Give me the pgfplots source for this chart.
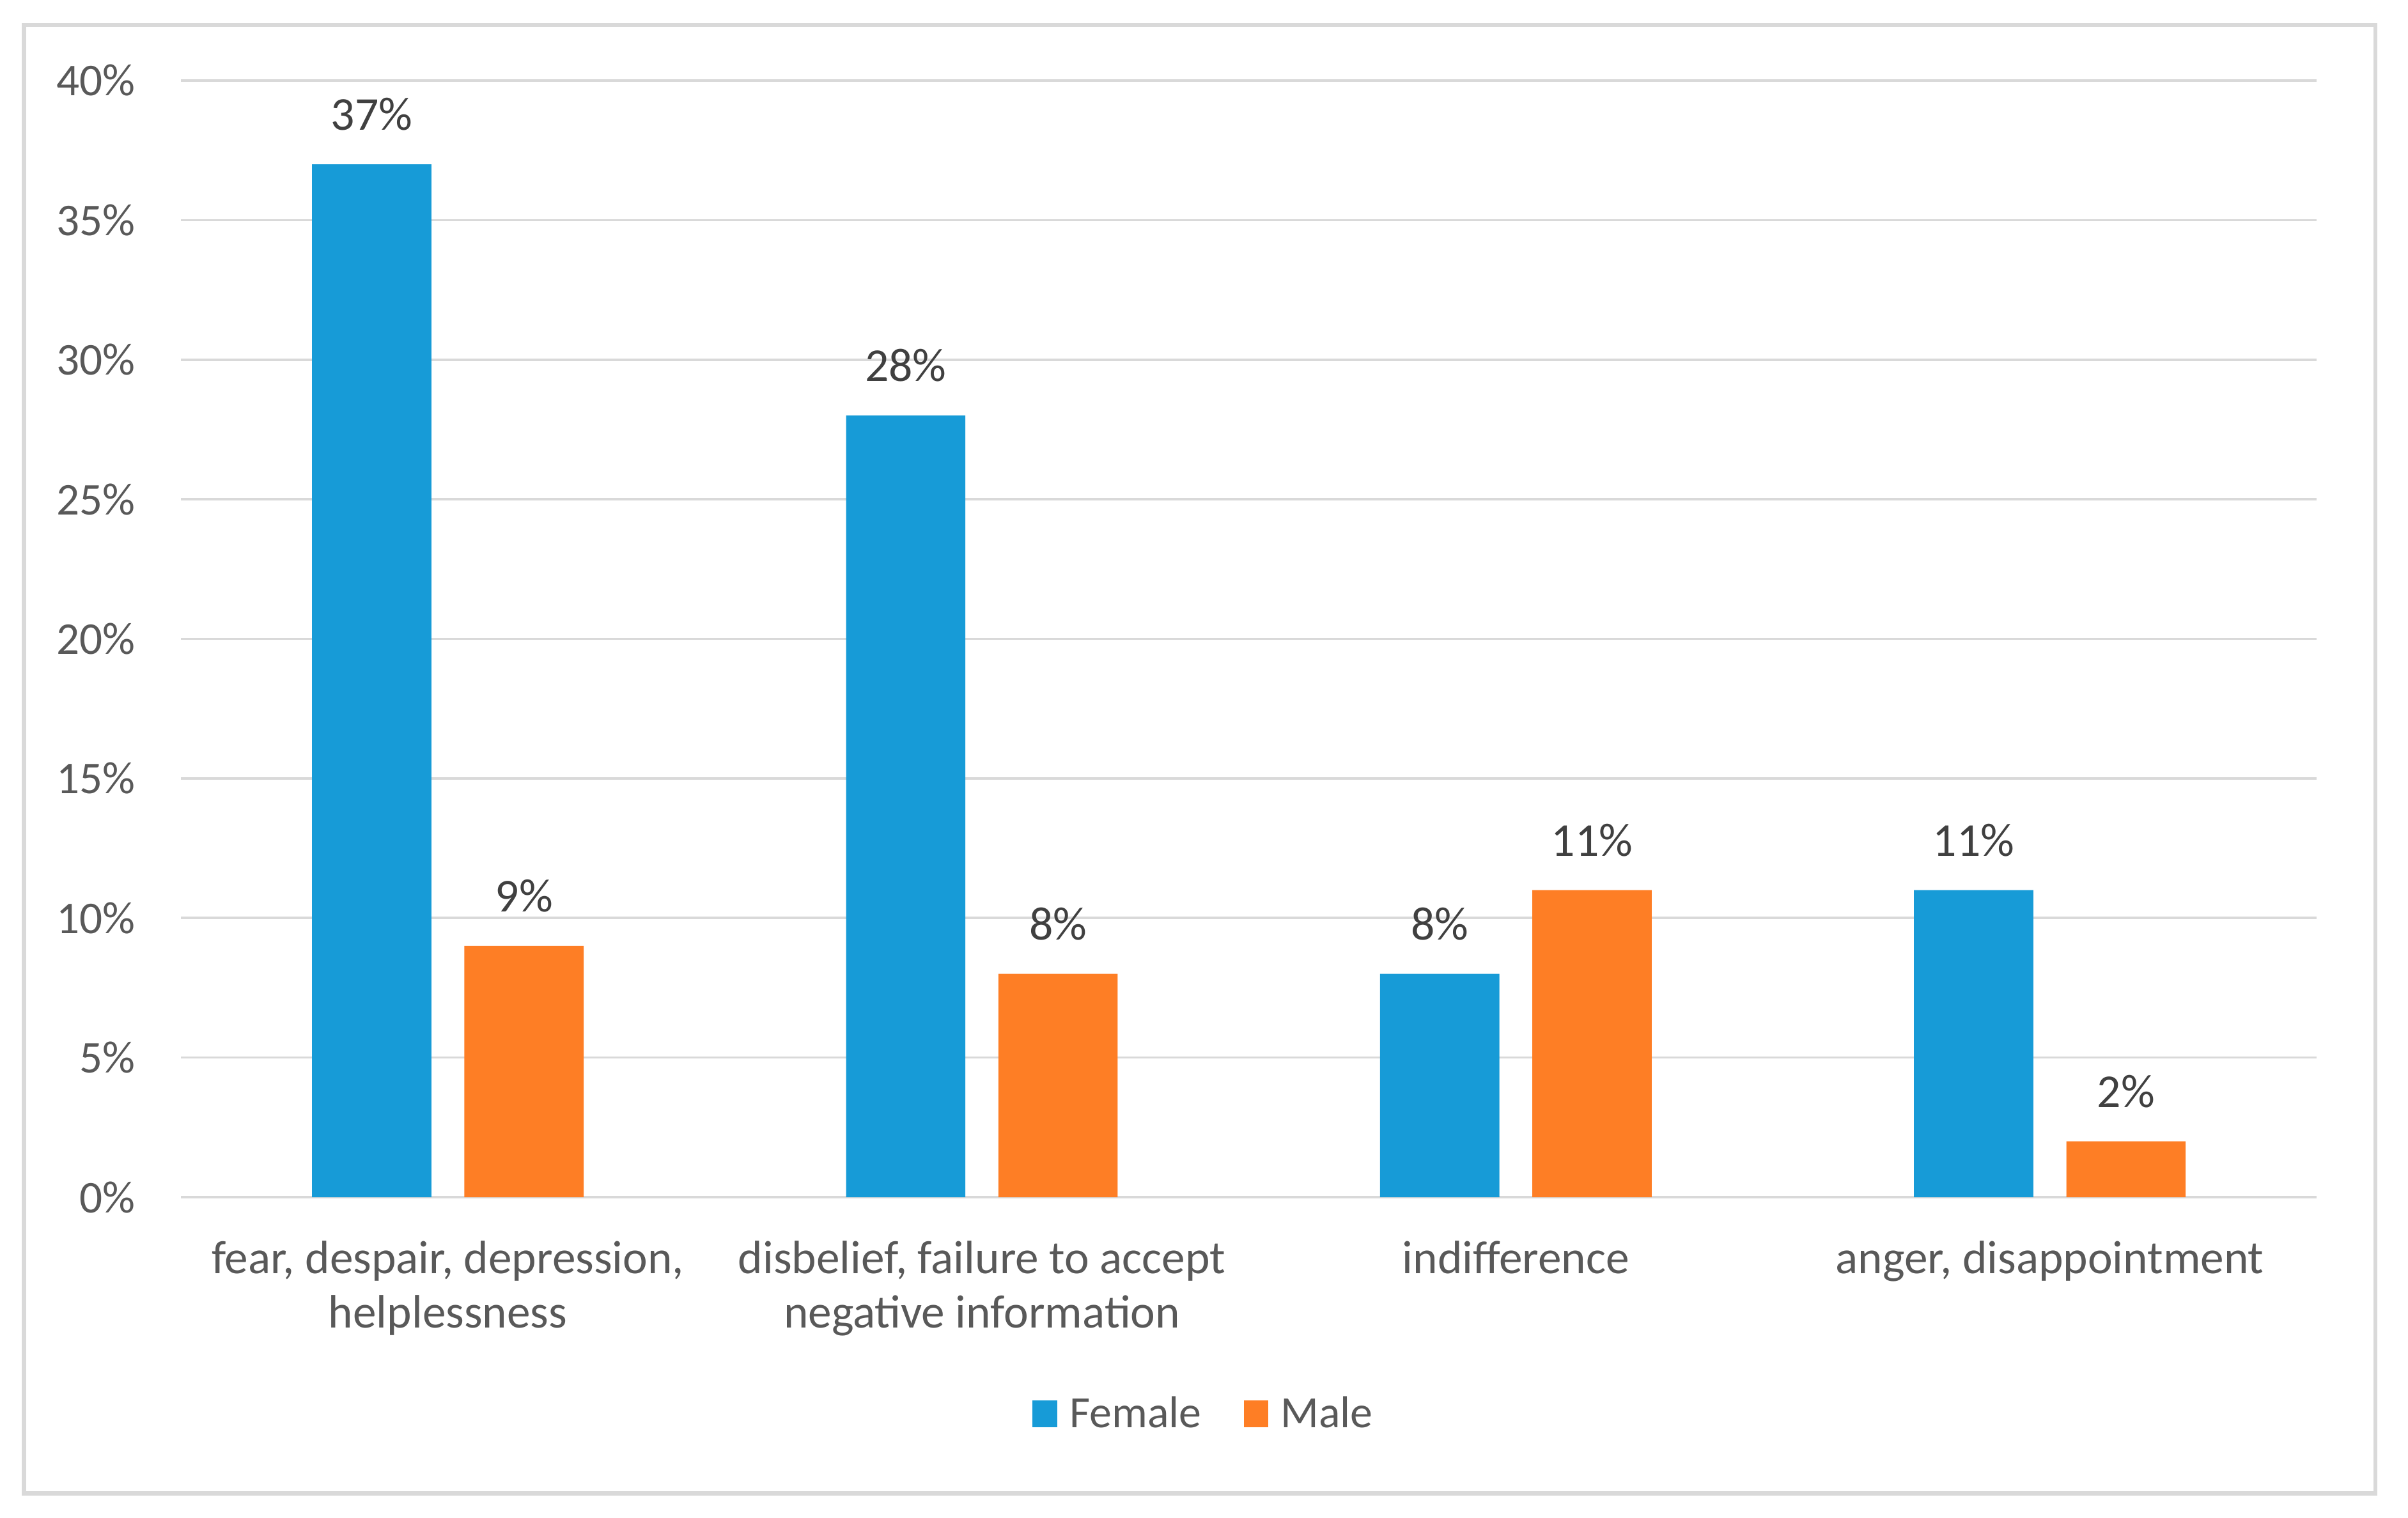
\documentclass[border=0pt]{standalone}
\usepackage{fontspec}
\setmainfont{Carlito}
\usepackage{pgfplots}
\pgfplotsset{compat=1.18}
\definecolor{fem}{HTML}{179BD7}
\definecolor{mal}{HTML}{FE7E25}
\definecolor{gridc}{HTML}{D9D9D9}
\definecolor{txt}{HTML}{595959}
\definecolor{lbl}{HTML}{404040}
\newcommand\tf{\fontsize{16.8}{20}\selectfont}
\newcommand\cf{\fontsize{17.3}{20}\selectfont}
\newcommand\df{\fontsize{17.4}{20}\selectfont}
\newcommand\lf{\fontsize{16.5}{20}\selectfont}
\newcommand\two[2]{\begin{tabular}[t]{@{}c@{}}#1\\#2\end{tabular}}
\begin{document}
\begin{tikzpicture}
\path[use as bounding box] (-23.47mm,-41.63mm) rectangle (288.93mm,155.33mm);
\draw[gridc, line width=0.55mm] (-20.36mm,-38.45mm) rectangle (284.7mm,152.1mm);
\begin{axis}[
    at={(0,0)}, anchor=south west,
    scale only axis, width=277.1mm, height=144.88mm,
    xmin=-0.5, xmax=3.5, ymin=0, ymax=40,
    ytick={0,5,...,40},
    xtick={0,1,2,3},
    xticklabels={{\two{fear, despair, depression,}{helplessness}},
                 {\two{disbelief, failure to accept}{negative information}},
                 {indifference},
                 {anger, disappointment}},
    ymajorgrids,
    grid style={gridc, line width=0.3mm},
    axis line style={draw=none},
    major tick length=0pt,
    yticklabel={\pgfmathprintnumber[assume math mode=true]{\tick}\%},
    yticklabel style={font=\tf, text=txt, anchor=east, inner sep=0pt, xshift=-5.85mm},
    xticklabel style={font=\cf, text=txt, anchor=base, inner sep=0pt, yshift=-9.9mm},
    ybar, bar width=15.48mm,
    nodes near coords={\pgfmathprintnumber[assume math mode=true]{\pgfplotspointmeta}\%},
    nodes near coords style={font=\df, text=lbl, anchor=base, inner sep=0pt, yshift=4.44mm},
    legend columns=-1,
    legend style={at={(0.3985,-0.2153)}, anchor=south west, draw=none, fill=none,
        font=\lf, text=txt, inner sep=0pt, cells={anchor=base},
        /tikz/every odd column/.append style={column sep=0.9mm},
        /tikz/every even column/.append style={column sep=4.8mm}},
]
\addplot[fill=fem, draw=none, bar shift=-9.88mm,
    legend image code/.code={\fill[fem] (0mm,0mm) rectangle (3.2mm,3.55mm);}]
    coordinates {(0,37) (1,28) (2,8) (3,11)};
\addlegendentry{Female}
\addplot[fill=mal, draw=none, bar shift=9.88mm,
    legend image code/.code={\fill[mal] (0mm,0mm) rectangle (3.2mm,3.55mm);}]
    coordinates {(0,9) (1,8) (2,11) (3,2)};
\addlegendentry{Male}
\end{axis}
\end{tikzpicture}
\end{document}
